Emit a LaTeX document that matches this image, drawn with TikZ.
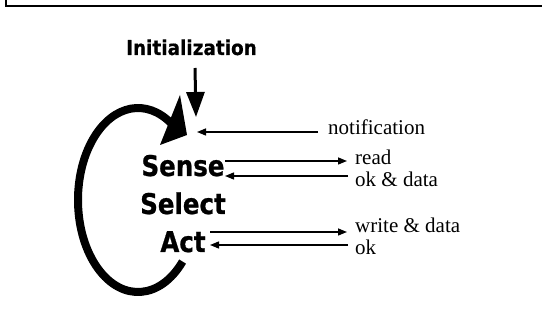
\documentclass[tikz,border=0pt]{standalone}
\usepackage{fontspec}
\setmainfont{Liberation Serif}
\newfontfamily\initfont[FakeStretch=0.9,FakeBold=0.6]{DejaVu Sans}
\newfontfamily\stagefont[FakeStretch=0.86,FakeBold=0.8]{DejaVu Sans}
\usetikzlibrary{arrows.meta}
\tikzset{
  frameline/.style={line width=2pt},
  stagetxt/.style={inner sep=0pt, anchor=base, font=\stagefont\bfseries\fontsize{28.5}{30}\selectfont},
  msgtxt/.style={inner sep=0pt, anchor=base west, font=\fontsize{21}{22}\selectfont},
  msgarrow/.style={line width=1.4pt, -{Triangle[length=9pt,width=7pt]}},
  initarrow/.style={line width=3pt, -{Triangle[length=25pt,width=18pt]}},
  looparc/.style={line width=8pt}
}
\begin{document}
\begin{tikzpicture}[x=1pt,y=1pt]
\useasboundingbox (0,0) rectangle (542,324);
% frame
\draw[frameline] (5.7,324) -- (5.7,318.2) -- (542,318.2);
% texts
\node[inner sep=0pt, anchor=base, font=\initfont\bfseries\fontsize{20.5}{22}\selectfont] (init) at (191.5,269) {Initialization};
\node[stagetxt] (sense) at (183,148) {Sense};
\node[stagetxt] (select) at (183,110) {Select};
\node[stagetxt] (act) at (183,72) {Act};
\node[msgtxt] (notif) at (328,189) {notification};
\node[msgtxt] (read) at (355,159) {read};
\node[msgtxt] (okdata) at (355,137) {ok \& data};
\node[msgtxt] (write) at (355,91) {write \& data};
\node[msgtxt] (ok) at (355,69) {ok};
% initialization arrow
\coordinate (inittop) at (195,256);
\coordinate (inittip) at (196,207);
\draw[initarrow] (inittop) -- (inittip);
% loop arrow
\coordinate (loopc) at (138,124);
\draw[looparc] ([shift={(-42:60 and 92)}]loopc) arc[start angle=-42, end angle=-304, x radius=60, y radius=92];
\coordinate (headA) at (180,229);
\coordinate (headB) at (160,179);
\coordinate (headT) at (187,189);
\fill (headA) -- (headT) -- (headB) -- cycle;
% message arrows
\coordinate (notifS) at (318,192);
\coordinate (notifE) at (197,192);
\draw[msgarrow] (notifS) -- (notifE);
\coordinate (readS) at (225,163);
\coordinate (readE) at (347,163);
\draw[msgarrow] (readS) -- (readE);
\coordinate (okdS) at (348,148);
\coordinate (okdE) at (225,148);
\draw[msgarrow] (okdS) -- (okdE);
\coordinate (writeS) at (210,92);
\coordinate (writeE) at (347,92);
\draw[msgarrow] (writeS) -- (writeE);
\coordinate (okS) at (348,79);
\coordinate (okE) at (210,79);
\draw[msgarrow] (okS) -- (okE);
\end{tikzpicture}
\end{document}
